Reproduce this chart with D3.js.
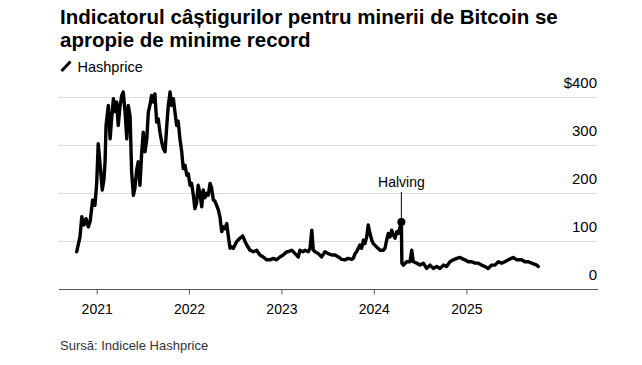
<!DOCTYPE html>
<html>
<head>
<meta charset="utf-8">
<script src="https://cdn.jsdelivr.net/npm/d3@7"></script>
<style>
  html, body { margin: 0; padding: 0; background: #fff; }
  svg { display: block; font-family: "Liberation Sans", Arial, Helvetica, sans-serif; }
</style>
</head>
<body>
<svg id="chart" width="642" height="365"></svg>
<script>
// ---------- DATA ----------
const titleLines = ["Indicatorul câștigurilor pentru minerii de Bitcoin se", "apropie de minime record"];
const seriesName = "Hashprice";
const sourceText = "Sursă: Indicele Hashprice";

const dates = [
  "2020-10-14","2020-10-27","2020-11-03","2020-11-12","2020-11-20","2020-11-29","2020-12-06","2020-12-16","2020-12-25",
  "2021-01-01","2021-01-07","2021-01-17","2021-01-23","2021-01-30","2021-02-03","2021-02-07","2021-02-16","2021-02-23",
  "2021-03-01","2021-03-08","2021-03-14","2021-03-21","2021-03-27","2021-04-03","2021-04-10","2021-04-16","2021-04-23",
  "2021-04-30","2021-05-06","2021-05-13","2021-05-19","2021-05-26","2021-06-01","2021-06-08","2021-06-14","2021-06-21",
  "2021-06-28","2021-07-04","2021-07-11","2021-07-18","2021-07-24","2021-07-31","2021-08-06","2021-08-13","2021-08-19",
  "2021-08-26","2021-09-01","2021-09-08","2021-09-15","2021-09-21","2021-09-28","2021-10-05","2021-10-11","2021-10-18",
  "2021-10-24","2021-10-31","2021-11-06","2021-11-13","2021-11-19","2021-11-26","2021-12-03","2021-12-09","2021-12-16",
  "2021-12-23","2021-12-29","2022-01-05","2022-01-11","2022-01-18","2022-01-24","2022-01-31","2022-02-06","2022-02-13",
  "2022-02-20","2022-02-26","2022-03-05","2022-03-12","2022-03-18","2022-03-25","2022-03-31","2022-04-07","2022-04-13",
  "2022-04-20","2022-04-27","2022-05-03","2022-05-10","2022-05-16","2022-05-23","2022-05-30","2022-06-05","2022-06-12",
  "2022-06-18","2022-06-25","2022-07-08","2022-07-21","2022-08-01","2022-08-09","2022-08-17","2022-08-30","2022-09-12",
  "2022-09-25","2022-10-08","2022-10-21","2022-11-04","2022-11-17","2022-11-30","2022-12-13","2022-12-26","2023-01-08",
  "2023-01-22","2023-01-28","2023-02-11","2023-02-24","2023-03-09","2023-03-15","2023-03-28","2023-04-04","2023-04-17",
  "2023-04-24","2023-05-01","2023-05-07","2023-05-14","2023-05-27","2023-06-09","2023-06-22","2023-07-05","2023-07-19",
  "2023-08-01","2023-08-14","2023-08-27","2023-09-09","2023-09-22","2023-10-06","2023-10-12","2023-10-19","2023-10-25",
  "2023-11-01","2023-11-07","2023-11-14","2023-11-21","2023-11-27","2023-12-04","2023-12-10","2023-12-17","2023-12-24",
  "2023-12-30","2024-01-12","2024-01-26","2024-02-08","2024-02-14","2024-02-21","2024-02-27","2024-03-05","2024-03-12",
  "2024-03-18","2024-03-25","2024-04-01","2024-04-07","2024-04-19","2024-04-21","2024-04-27","2024-05-10","2024-05-23",
  "2024-05-30","2024-06-05","2024-06-19","2024-07-02","2024-07-15","2024-07-28","2024-08-10","2024-08-23","2024-09-06",
  "2024-09-19","2024-10-02","2024-10-15","2024-10-28","2024-11-10","2024-11-24","2024-12-07","2024-12-13","2024-12-26",
  "2025-01-08","2025-01-22","2025-02-04","2025-02-17","2025-03-02","2025-03-15","2025-03-28","2025-04-11","2025-04-24",
  "2025-05-07","2025-05-20","2025-06-02","2025-06-16","2025-07-05","2025-07-19","2025-08-07","2025-08-20","2025-09-03",
  "2025-09-16","2025-10-06","2025-10-12"
];
const hashprice = [
  77,108,150,133,146,129,140,185,174,
  220,303,244,206,230,265,341,383,313,
  355,397,370,390,341,380,404,411,370,
  313,383,360,244,195,210,248,265,216,
  286,327,286,313,369,385,404,390,407,
  348,355,327,306,293,286,341,383,411,
  383,397,370,341,350,313,286,251,258,
  237,240,216,220,195,167,180,216,199,
  171,206,190,199,195,220,210,185,183,
  174,164,150,119,129,125,136,110,84,
  87,84,98,105,110,100,91,80,77,
  80,70,66,60,60,63,60,66,70,
  77,77,80,73,66,80,77,80,77,
  84,122,80,77,73,66,77,73,70,
  70,66,61,60,63,61,63,73,77,
  84,91,84,101,94,108,133,115,101,
  94,87,80,80,84,101,115,108,122,
  112,105,119,115,139,53,49,56,56,
  80,56,53,49,53,42,49,42,46,
  42,49,46,56,60,63,65,63,60,
  56,56,53,53,49,46,42,49,49,
  56,53,56,60,65,60,60,56,56,
  53,49,46
];
const yTicks = [0, 100, 200, 300, 400];
const yTickLabels = ["0", "100", "200", "300", "$400"];
const xTickYears = ["2021", "2022", "2023", "2024", "2025"];
const annotationDate = "2024-04-19";
const annotationText = "Halving";

// ---------- CHART ----------
const svg = d3.select("#chart");
const parse = d3.utcParse("%Y-%m-%d");
const data = dates.map((d, i) => ({ date: parse(d), value: hashprice[i] }));

const x = d3.scaleUtc()
  .domain([parse("2021-01-01"), parse("2025-01-01")])
  .range([96.7, 466.4]);
const y = d3.scaleLinear().domain([0, 400]).range([288.5, 97.3]);

const plotLeft = 58, plotRight = 597;

// Title
svg.append("g").selectAll("text").data(titleLines).join("text")
  .attr("x", 60).attr("y", (d, i) => 24 + i * 23)
  .attr("font-size", "20.5px").attr("font-weight", "bold").attr("fill", "#000")
  .text(d => d);

// Legend
const leg = svg.append("g");
leg.append("line").attr("x1", 61.5).attr("y1", 71).attr("x2", 70.5).attr("y2", 61.5)
  .attr("stroke", "#000").attr("stroke-width", 3);
leg.append("text").attr("x", 77.5).attr("y", 71.5).attr("font-size", "14.5px").attr("fill", "#000").text(seriesName);

// Gridlines
svg.append("g").selectAll("line").data(yTicks.filter(v => v > 0)).join("line")
  .attr("x1", plotLeft).attr("x2", plotRight)
  .attr("y1", d => Math.round(y(d)) + 0.5).attr("y2", d => Math.round(y(d)) + 0.5)
  .attr("stroke", "#dcdcdc").attr("stroke-width", 1);

// Y labels
svg.append("g").selectAll("text").data(yTicks).join("text")
  .attr("x", plotRight).attr("y", d => y(d) - 9)
  .attr("text-anchor", "end").attr("font-size", "15px").attr("fill", "#000")
  .text((d, i) => yTickLabels[i]);

// X axis
const xAxis = d3.axisBottom(x)
  .tickValues(xTickYears.map(t => parse(t + "-01-01")))
  .tickFormat(d3.utcFormat("%Y"))
  .tickSize(5).tickPadding(10);
const gx = svg.append("g").attr("transform", `translate(0,${Math.round(y(0)) + 0.5})`).call(xAxis);
gx.select(".domain").remove();
gx.selectAll(".tick line").attr("stroke", "#555");
gx.selectAll(".tick text").attr("font-size", "14px").attr("fill", "#000")
  .attr("font-family", "'Liberation Sans', Arial, sans-serif");
svg.append("line").attr("x1", 59).attr("x2", 598)
  .attr("y1", Math.round(y(0)) + 0.5).attr("y2", Math.round(y(0)) + 0.5)
  .attr("stroke", "#555").attr("stroke-width", 1);

// Line
const line = d3.line().x(d => x(d.date)).y(d => y(d.value)).curve(d3.curveLinear);
svg.append("path").datum(data).attr("d", line)
  .attr("fill", "none").attr("stroke", "#000").attr("stroke-width", 3.4)
  .attr("stroke-linejoin", "round").attr("stroke-linecap", "round");

// Annotation
const ann = data.find(d => +d.date === +parse(annotationDate));
const ax = x(ann.date), ay = y(ann.value);
svg.append("line").attr("x1", ax).attr("x2", ax).attr("y1", ay).attr("y2", 192)
  .attr("stroke", "#000").attr("stroke-width", 1);
svg.append("circle").attr("cx", ax).attr("cy", ay).attr("r", 4).attr("fill", "#000");
svg.append("text").attr("x", ax).attr("y", 187).attr("text-anchor", "middle")
  .attr("font-size", "14px").attr("fill", "#000").text(annotationText);

// Source
svg.append("text").attr("x", 60).attr("y", 350).attr("font-size", "13px").attr("fill", "#333").text(sourceText);
</script>
</body>
</html>
